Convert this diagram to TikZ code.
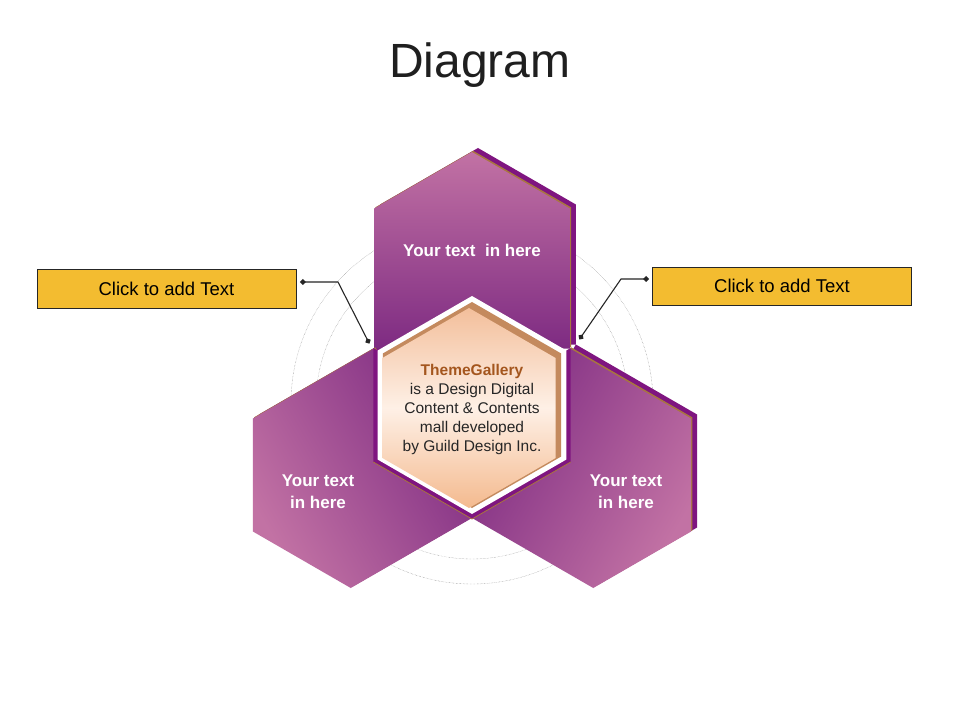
\documentclass[tikz,border=0pt]{standalone}
\usepackage{fontspec}
\setmainfont{Liberation Sans}
\usetikzlibrary{arrows.meta}
\definecolor{mauve}{HTML}{C272A4}
\definecolor{plum}{HTML}{7E2B82}
\definecolor{plumside}{HTML}{7F1580}
\definecolor{rim}{HTML}{A8753F}
\definecolor{gold}{HTML}{F3BC30}
\definecolor{tan}{HTML}{C48A5E}
\definecolor{peach}{HTML}{F3BF9B}
\definecolor{cream}{HTML}{FEF0E6}
\definecolor{rust}{HTML}{A4561E}

\begin{document}
\begin{tikzpicture}[x=1pt, y=1pt,
	heading/.style = {font=\fontsize{48}{56}\selectfont},
	piecetext/.style = {text=white, align=center, font=\bfseries\fontsize{17}{22}\selectfont},
	callout/.style = {draw=black!85, fill=gold, minimum width=259, minimum height=39, inner sep=0, font=\fontsize{18.5}{20}\selectfont},
	leader/.style = {line width=1.1pt, black!85, {Diamond[length=6pt,width=6pt]}-{Diamond[length=6pt,width=6pt]}}]
	\path [use as bounding box, fill=white] (-472,-315) rectangle (488,405);

	\node [heading, text=black!88] (title) at (8,340) {Diagram};

	\draw [gray, densely dotted] (0,2) circle (181) (0,2) circle (156);

	\foreach \a in {90,210,330}
		\fill [plumside, shift={(6,4)}] (\a-60:113) -- ++(\a:140) -- ++(\a+60:113) -- ++(\a+120:113) -- ++(\a+180:140) -- cycle;
	\foreach \a [evaluate=\a as \b using \a-90] in {90,210,330}{
		\fill [rim, shift={(1.2,1.2)}] (\a-60:113) -- ++(\a:140) -- ++(\a+60:113) -- ++(\a+120:113) -- ++(\a+180:140) -- cycle;
		\shade [top color=mauve, bottom color=plum, shading angle=\b] (\a-60:113) -- ++(\a:140) -- ++(\a+60:113) -- ++(\a+120:113) -- ++(\a+180:140) -- cycle;
	}

	\fill [plumside] (150:114) -- (210:114) -- (270:114) -- (330:114) -- (30:114) -- (0,0) -- cycle;
	\draw [rim, thick] (210:114) -- (270:114) -- (330:114);
	\fill [white] (30:109) -- (90:109) -- (150:109) -- (210:109) -- (270:109) -- (330:109) -- cycle;
	\fill [tan] (30:103) -- (90:103) -- (150:103) -- (210:103) -- (270:103) -- (330:103) -- cycle;
	\shade [shift={(-3,-3)}, top color=peach, bottom color=peach!92!orange, middle color=cream] (30:100) -- (90:100) -- (150:100) -- (210:100) -- (270:100) -- (330:100) -- cycle;

	\node [piecetext] (top) at (0,155) {Your text\ \ in here};
	\node [piecetext] (left) at (-154,-87) {Your text\\in here};
	\node [piecetext] (right) at (154,-87) {Your text\\in here};
	\node [align=center, text=black!85, font=\fontsize{15.5}{19}\selectfont] (gallery) at (0,-4)
		{\textcolor{rust}{\textbf{ThemeGallery}}\\is a Design Digital\\Content \& Contents\\mall developed\\by Guild Design Inc.};

	\node [callout] (lbox) at (-305.5,116.5) {Click to add Text};
	\node [callout, minimum height=38] (rbox) at (310,119) {Click to add Text};

	\coordinate (l1) at (-172,123);
	\coordinate (l2) at (-134,123);
	\coordinate (l3) at (-102.6,61.3);
	\coordinate (r1) at (177,126);
	\coordinate (r2) at (149,126);
	\coordinate (r3) at (107.3,65.5);
	\draw [leader] (l1) -- (l2) -- (l3);
	\draw [leader] (r1) -- (r2) -- (r3);
\end{tikzpicture}
\end{document}
